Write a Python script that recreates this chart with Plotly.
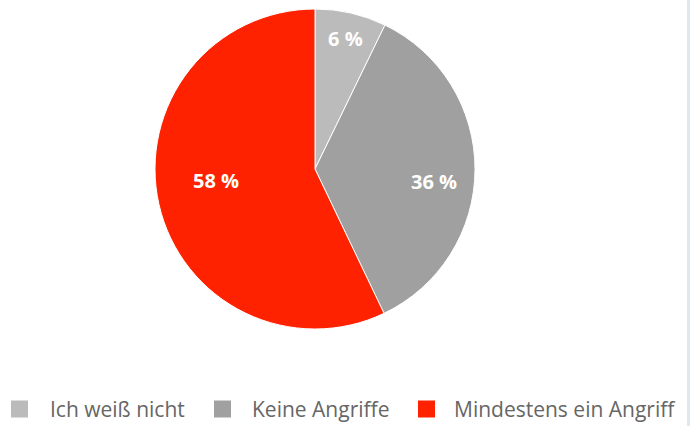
import math
import plotly.graph_objects as go

labels = ["Ich weiß nicht", "Keine Angriffe", "Mindestens ein Angriff"]
shares = [7.2, 35.7, 57.1]
label_texts = ["6 %", "36 %", "58 %"]
colors = ["#bbbbbb", "#a0a0a0", "#ff2200"]

W, H = 690, 426
cx, cy, r = 315, 169, 160

# label placement styling (radial fraction, angular offset in degrees)
label_frac = [0.84, 0.75, 0.62]
label_dang = [0.0, 5.6, 6.4]

# legend layout styling (pixels)
leg_sq_x = [11, 214, 418]
leg_tx_x = [48, 250, 452]
leg_y = 409
leg_sq = 17

fig = go.Figure(go.Pie(
    labels=labels,
    values=shares,
    textinfo="none",
    sort=False,
    direction="clockwise",
    rotation=0,
    marker=dict(colors=colors, line=dict(color="#ffffff", width=1)),
    hoverinfo="label+percent",
    showlegend=False,
    domain=dict(x=[(cx - r) / W, (cx + r) / W], y=[(H - cy - r) / H, (H - cy + r) / H]),
))

total = sum(shares)
cum = 0.0
for i, v in enumerate(shares):
    mid = (cum + v / 2) / total * 360 + label_dang[i]
    cum += v
    a = math.radians(mid)
    px = cx + r * label_frac[i] * math.sin(a)
    py = cy - r * label_frac[i] * math.cos(a)
    fig.add_annotation(
        x=px / W, y=(H - py) / H, xref="paper", yref="paper",
        text=label_texts[i], showarrow=False, xanchor="center", yanchor="middle",
        font=dict(family="Open Sans", size=20, color="#ffffff", weight="bold"),
    )

for i, lab in enumerate(labels):
    fig.add_shape(type="rect", xref="paper", yref="paper",
                  x0=leg_sq_x[i] / W, x1=(leg_sq_x[i] + leg_sq) / W,
                  y0=(H - leg_y - leg_sq / 2) / H, y1=(H - leg_y + leg_sq / 2) / H,
                  fillcolor=colors[i], line=dict(width=0))
    fig.add_annotation(
        x=leg_tx_x[i] / W, y=(H - leg_y) / H, xref="paper", yref="paper",
        text=lab, showarrow=False, xanchor="left", yanchor="middle",
        font=dict(family="Open Sans", size=21, color="#666666"),
    )

fig.add_shape(type="rect", xref="paper", yref="paper", x0=687 / W, x1=1, y0=0, y1=1,
              fillcolor="#e1e7ee", line=dict(width=0), layer="below")

fig.update_layout(
    width=W, height=H,
    margin=dict(l=0, r=0, t=0, b=0),
    paper_bgcolor="#ffffff",
    plot_bgcolor="#ffffff",
    showlegend=False,
)

fig.write_html("out.html", config={"displayModeBar": False},
               post_script="document.body.style.margin='0';document.body.style.overflow='hidden';")
